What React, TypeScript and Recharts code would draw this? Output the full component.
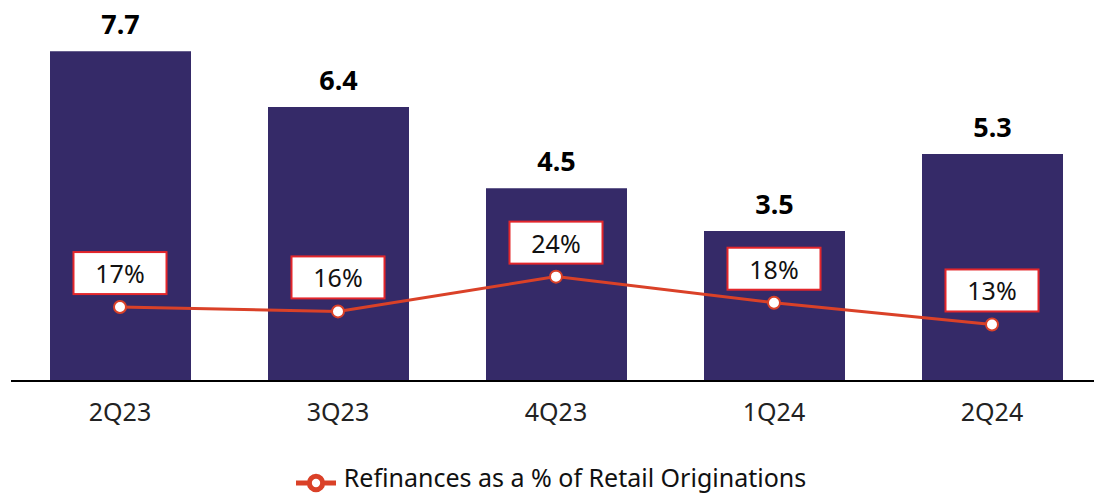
import { ComposedChart, Bar, Line, XAxis, YAxis, LabelList, Legend } from 'recharts';

// quarters on the x axis
const quarters = ['2Q23', '3Q23', '4Q23', '1Q24', '2Q24'];
// bar values (bold labels above bars)
const volumes = [7.7, 6.4, 4.5, 3.5, 5.3];
// refinance share, percent
const refiShare = [17, 16, 24, 18, 13];

const data = quarters.map((q, i) => ({ q, volume: volumes[i], refi: refiShare[i] }));

const FONT = '"Noto Sans", sans-serif';
const NAVY = '#352A68';
const RED = '#DA4128';
const BOX_RED = '#E3262B';

const PctLabel = (props: any) => {
  const { x, y, value } = props;
  const w = 93;
  const h = 42;
  return (
    <g>
      <rect x={x - w / 2} y={y - 13 - h} width={w} height={h} fill="#fff" stroke={BOX_RED} strokeWidth={2} />
      <text
        x={x}
        y={y - 13 - h / 2}
        textAnchor="middle"
        dominantBaseline="central"
        fontSize={25}
        fontFamily={FONT}
        fill="#111"
      >
        {value}%
      </text>
    </g>
  );
};

export default function App() {
  return (
    <div style={{ position: 'absolute', left: 0, top: 0, width: 1094, height: 495, overflow: 'hidden' }}>
      <ComposedChart
        width={1102}
        height={495}
        data={data}
        margin={{ top: 17, right: 1, left: 11, bottom: 32 }}
      >
        <XAxis
          dataKey="q"
          height={50}
          tickLine={false}
          axisLine={{ stroke: '#000', strokeWidth: 2 }}
          tick={{ fontSize: 25, fill: '#222', fontFamily: FONT }}
          dy={14}
        />
        <YAxis yAxisId="left" hide domain={[0, 8.5]} />
        <YAxis yAxisId="right" hide orientation="right" domain={[0, 83.7]} />
        <Bar yAxisId="left" dataKey="volume" fill={NAVY} barSize={141} isAnimationActive={false} legendType="none">
          <LabelList
            dataKey="volume"
            position="top"
            offset={17}
            style={{ fontSize: 27, fontWeight: 700, fill: '#000', fontFamily: FONT }}
            formatter={(v: any) => Number(v).toFixed(1)}
          />
        </Bar>
        <Line
          yAxisId="right"
          dataKey="refi"
          name="Refinances as a % of Retail Originations"
          stroke={RED}
          strokeWidth={3}
          dot={{ r: 6, fill: '#fff', stroke: RED, strokeWidth: 2 }}
          isAnimationActive={false}
          legendType="line"
        >
          <LabelList dataKey="refi" content={PctLabel} />
        </Line>
        <Legend
          verticalAlign="bottom"
          height={32}
          iconSize={40}
          wrapperStyle={{ top: 462, bottom: 'auto', fontFamily: FONT, lineHeight: '30px' }}
          formatter={(v: any) => (
            <span style={{ color: '#111', fontSize: 25, marginLeft: 4 }}>{v}</span>
          )}
        />
      </ComposedChart>
    </div>
  );
}
